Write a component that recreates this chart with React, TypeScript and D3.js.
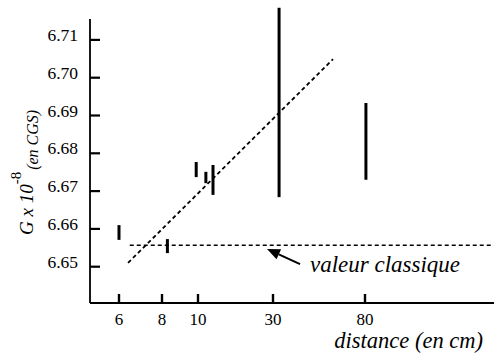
import React from 'react';
import * as d3 from 'd3';

// ---- data ----
const xTickValues = [6, 8, 10, 30, 80];
const xTickLabels = ['6', '8', '10', '30', '80'];
const yTickValues = [6.65, 6.66, 6.67, 6.68, 6.69, 6.7, 6.71];
const yTickLabels = ['6.65', '6.66', '6.67', '6.68', '6.69', '6.70', '6.71'];

// measurements (distance in cm, G range)
const distances = [6, 8.3, 9.9, 12.1, 14, 33.3, 80.5];
const gLow = [6.6571, 6.6536, 6.6737, 6.6721, 6.669, 6.6684, 6.673];
const gHigh = [6.661, 6.6573, 6.6777, 6.6751, 6.6769, 6.7185, 6.6933];

// classic value line
const classicValue = 6.6557;
const classicDist = [6.5, 150];

// trend line
const trendDist = [6.42, 62.6];
const trendG = [6.651, 6.7049];

// annotation arrow (tip, tail) and label anchor
const arrowDist = [28.4, 44.7];
const arrowG = [6.6547, 6.6507];
const annotDist = 50.1;
const annotG = 6.6486;

const axisDist = [150.1];
const axisG = [6.6404, 6.7155];

const FONT = 'Liberation Serif, Tinos, DejaVu Serif, Times New Roman, Times, serif';

export default function App() {
  const x = d3
    .scaleLinear()
    .domain(xTickValues)
    .range([119, 162, 198, 273, 365]);
  const y = d3.scaleLinear().domain([6.65, 6.71]).range([266.7, 39.9]);

  const x0 = 90;
  const yBottom = y(axisG[0]);
  const yTop = y(axisG[1]);
  const xEnd = x(axisDist[0]);

  const line = d3
    .line<[number, number]>()
    .x((d) => x(d[0]))
    .y((d) => y(d[1]));

  const trendPts: [number, number][] = trendDist.map((d, i) => [d, trendG[i]]);
  const classicPts: [number, number][] = classicDist.map((d) => [d, classicValue]);

  // arrow geometry
  const tipX = x(arrowDist[0]);
  const tipY = y(arrowG[0]);
  const tailX = x(arrowDist[1]);
  const tailY = y(arrowG[1]);
  const ang = Math.atan2(tipY - tailY, tipX - tailX);
  const headLen = 13;
  const headW = 5.5;
  const bx = tipX - headLen * Math.cos(ang);
  const by = tipY - headLen * Math.sin(ang);
  const px = -Math.sin(ang) * headW;
  const py = Math.cos(ang) * headW;
  const head = `M${tipX},${tipY}L${bx + px},${by + py}L${bx - px},${by - py}Z`;

  const tStyle = { fontFamily: FONT };

  return (
    <svg width={500} height={357} style={{ display: 'block', position: 'absolute', left: 0, top: 0 }}>
      <rect width={500} height={357} fill="#fff" />
      {/* axes */}
      <line x1={x0} x2={x0} y1={yTop} y2={yBottom} stroke="#000" strokeWidth={1.8} />
      <line x1={x0} x2={xEnd} y1={yBottom} y2={yBottom} stroke="#000" strokeWidth={1.8} />
      {yTickValues.map((v, i) => (
        <g key={'yt' + i}>
          <line x1={x0} x2={x0 + 10} y1={y(v)} y2={y(v)} stroke="#000" strokeWidth={2.2} />
          <text x={78} y={y(v) + 1} textAnchor="end" style={tStyle} fontSize={17.5} fill="#000">
            {yTickLabels[i]}
          </text>
        </g>
      ))}
      {xTickValues.map((v, i) => (
        <g key={'xt' + i}>
          <line x1={x(v)} x2={x(v)} y1={yBottom} y2={yBottom - 9} stroke="#000" strokeWidth={2.4} />
          <text x={x(v)} y={325} textAnchor="middle" style={tStyle} fontSize={17} fill="#000">
            {xTickLabels[i]}
          </text>
        </g>
      ))}
      {/* y label */}
      <g transform={`translate(33,235) rotate(-90)`}>
        <text x={0} y={0} style={tStyle} fill="#000">
          <tspan fontSize={19} fontStyle="italic">G x 10</tspan>
          <tspan fontSize={15} dy={-12}>-8</tspan>
          <tspan fontSize={16} fontStyle="italic" dy={17} dx={2}>(en CGS)</tspan>
        </text>
      </g>
      {/* x label */}
      <text x={483} y={348} textAnchor="end" style={tStyle} fontStyle="italic" fontSize={22.5} fill="#000">
        distance (en cm)
      </text>
      {/* classic line */}
      <path d={line(classicPts) || ''} fill="none" stroke="#000" strokeWidth={1.5} strokeDasharray="4,3" />
      {/* trend line */}
      <path d={line(trendPts) || ''} fill="none" stroke="#000" strokeWidth={1.8} strokeDasharray="4,3" />
      {/* error bars */}
      {distances.map((d, i) => (
        <line
          key={'b' + i}
          x1={x(d)}
          x2={x(d)}
          y1={y(gLow[i])}
          y2={y(gHigh[i])}
          stroke="#000"
          strokeWidth={3}
        />
      ))}
      {/* annotation */}
      <line x1={tailX} y1={tailY} x2={bx} y2={by} stroke="#000" strokeWidth={2} />
      <path d={head} fill="#000" />
      <text x={x(annotDist)} y={y(annotG)} style={tStyle} fontStyle="italic" fontSize={23} fill="#000">
        valeur classique
      </text>
    </svg>
  );
}
